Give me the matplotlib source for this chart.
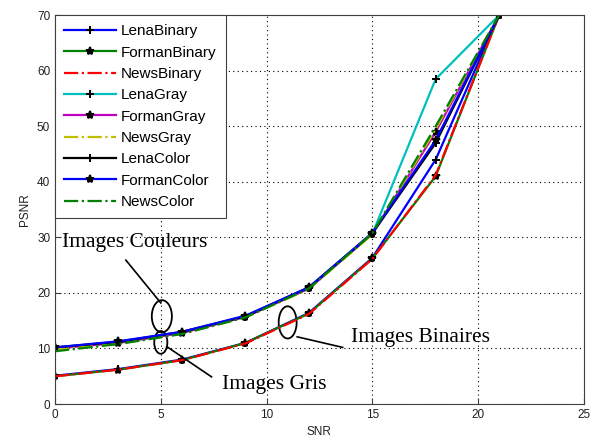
import numpy as np
import matplotlib
matplotlib.use('Agg')
import matplotlib.pyplot as plt
from matplotlib.patches import Ellipse

# SNR values and PSNR curves
snr = [0, 3, 6, 9, 12, 15, 18, 21]

lena_binary = [5.1, 6.3, 8.0, 11.0, 16.4, 26.3, 44.0, 70]
forman_binary = [5.0, 6.2, 7.9, 11.0, 16.3, 26.2, 41.0, 70]
news_binary = [5.0, 6.2, 7.9, 10.9, 16.2, 26.1, 41.2, 70]
lena_gray = [10.1, 11.1, 12.9, 15.7, 20.8, 30.6, 58.5, 70]
forman_gray = [10.0, 11.0, 12.8, 15.7, 20.8, 30.6, 49.0, 70]
news_gray = [9.8, 10.9, 12.7, 15.6, 20.7, 30.5, 49.5, 70]
lena_color = [10.2, 11.2, 13.0, 15.8, 21.0, 30.7, 47.0, 70]
forman_color = [10.2, 11.3, 13.0, 15.9, 21.0, 30.8, 47.5, 70]
news_color = [9.5, 10.8, 12.6, 15.6, 20.8, 30.7, 50.0, 70]

series_names = ['LenaBinary', 'FormanBinary', 'NewsBinary',
                'LenaGray', 'FormanGray', 'NewsGray',
                'LenaColor', 'FormanColor', 'NewsColor']
series_values = [lena_binary, forman_binary, news_binary,
                 lena_gray, forman_gray, news_gray,
                 lena_color, forman_color, news_color]

# style per series (matlab colours)
colors = ['#0000ff', '#008000', '#ff0000',
          '#00bfbf', '#bf00bf', '#bfbf00',
          '#000000', '#0000ff', '#008000']
markers = ['+', '*', None, '+', '*', None, '+', '*', None]
styles = ['-', '-', '-.', '-', '-', '-.', '-', '-', '-.']

plt.rcParams['font.family'] = ['Liberation Sans', 'DejaVu Sans']

fig = plt.figure(figsize=(5.92, 4.45), dpi=100)
ax = fig.add_axes([0.093, 0.092, 0.893, 0.874])

for name, vals, c, m, ls in zip(series_names, series_values, colors, markers, styles):
    ax.plot(snr, vals, color=c, linestyle=ls, linewidth=1.6,
            marker=m, markersize=6, markeredgecolor='black',
            markerfacecolor='black', markeredgewidth=1.4, label=name)

ax.set_xlim(0, 25)
ax.set_ylim(0, 70)
ax.set_xticks(np.arange(0, 26, 5))
ax.set_yticks(np.arange(0, 71, 10))
ax.grid(True, linestyle=(0, (1, 3)), color='black', linewidth=0.8)
ax.tick_params(direction='in', labelsize=8.5, length=4, color='#404040',
               labelcolor='#202020')
for sp in ax.spines.values():
    sp.set_color('#404040')
ax.set_xlabel('SNR', fontsize=8.5, labelpad=4, color='#202020')
ax.set_ylabel('PSNR', fontsize=8.5, labelpad=4, color='#202020')

leg = ax.legend(loc='upper left', fontsize=11, handlelength=3.4,
                handletextpad=0.3, borderaxespad=0, fancybox=False,
                framealpha=1, edgecolor='#404040', labelspacing=0.48,
                borderpad=0.6)
leg.get_frame().set_linewidth(0.8)

# annotations
serif = {'family': 'Liberation Serif', 'size': 15.5}
ax.add_patch(Ellipse((5.05, 15.8), 0.95, 5.8, fill=False, lw=1.3, color='black'))
ax.plot([3.35, 5.0], [25.9, 18.2], color='black', lw=1.2)
ax.text(0.35, 29.0, 'Images Couleurs', fontdict=serif, va='center', ha='left')

ax.add_patch(Ellipse((5.0, 11.1), 0.62, 4.1, fill=False, lw=1.3, color='black'))
ax.plot([5.3, 7.4], [10.3, 4.9], color='black', lw=1.2)
ax.text(7.9, 3.6, 'Images Gris', fontdict=serif, va='center', ha='left')

ax.add_patch(Ellipse((11.0, 14.7), 0.85, 5.8, fill=False, lw=1.3, color='black'))
ax.plot([11.45, 13.6], [12.1, 10.2], color='black', lw=1.2)
ax.text(14.0, 11.9, 'Images Binaires', fontdict=serif, va='center', ha='left')

fig.savefig('out.png', dpi=100)
